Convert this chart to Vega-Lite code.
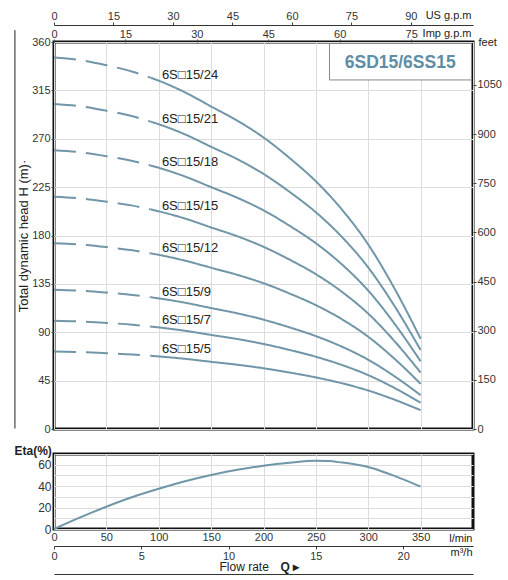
{
  "$schema": "https://vega.github.io/schema/vega-lite/v6.json",
  "background": "white",
  "padding": {"left": 12, "top": 7, "right": 0, "bottom": 0},
  "bounds": "flush",
  "spacing": 25,
  "config": {
    "font": "Liberation Sans",
    "view": {"stroke": "#111111", "strokeWidth": 3},
    "axis": {
      "labelFont": "Liberation Sans",
      "titleFont": "Liberation Sans",
      "labelColor": "#333333",
      "titleColor": "#222222",
      "labelFontSize": 11,
      "titleFontSize": 11,
      "titleFontWeight": "normal",
      "gridColor": "#dcdcdc",
      "gridWidth": 1,
      "tickColor": "#444444",
      "domainColor": "#333333",
      "labelFlush": false
    },
    "text": {"font": "Liberation Sans"}
  },
  "datasets": {
    "curves": [
      {"m": "24", "p": "d", "Q": 0, "H": 345.6}, {"m": "24", "p": "d", "Q": 25, "H": 343.2}, {"m": "24", "p": "d", "Q": 50, "H": 338.4}, {"m": "24", "p": "d", "Q": 75, "H": 332.4}, {"m": "24", "p": "d", "Q": 92, "H": 326.9},
      {"m": "24", "p": "s", "Q": 92, "H": 326.9}, {"m": "24", "p": "s", "Q": 100, "H": 324.0}, {"m": "24", "p": "s", "Q": 125, "H": 313.2}, {"m": "24", "p": "s", "Q": 150, "H": 300.0}, {"m": "24", "p": "s", "Q": 175, "H": 286.8}, {"m": "24", "p": "s", "Q": 200, "H": 271.2}, {"m": "24", "p": "s", "Q": 225, "H": 252.0}, {"m": "24", "p": "s", "Q": 250, "H": 230.4}, {"m": "24", "p": "s", "Q": 275, "H": 204.0}, {"m": "24", "p": "s", "Q": 300, "H": 171.6}, {"m": "24", "p": "s", "Q": 325, "H": 130.8}, {"m": "24", "p": "s", "Q": 350, "H": 84.0},
      {"m": "21", "p": "d", "Q": 0, "H": 302.4}, {"m": "21", "p": "d", "Q": 25, "H": 300.3}, {"m": "21", "p": "d", "Q": 50, "H": 296.1}, {"m": "21", "p": "d", "Q": 75, "H": 290.9}, {"m": "21", "p": "d", "Q": 92, "H": 286.0},
      {"m": "21", "p": "s", "Q": 92, "H": 286.0}, {"m": "21", "p": "s", "Q": 100, "H": 283.5}, {"m": "21", "p": "s", "Q": 125, "H": 274.1}, {"m": "21", "p": "s", "Q": 150, "H": 262.5}, {"m": "21", "p": "s", "Q": 175, "H": 251.0}, {"m": "21", "p": "s", "Q": 200, "H": 237.3}, {"m": "21", "p": "s", "Q": 225, "H": 220.5}, {"m": "21", "p": "s", "Q": 250, "H": 201.6}, {"m": "21", "p": "s", "Q": 275, "H": 178.5}, {"m": "21", "p": "s", "Q": 300, "H": 150.2}, {"m": "21", "p": "s", "Q": 325, "H": 114.5}, {"m": "21", "p": "s", "Q": 350, "H": 73.5},
      {"m": "18", "p": "d", "Q": 0, "H": 259.2}, {"m": "18", "p": "d", "Q": 25, "H": 257.4}, {"m": "18", "p": "d", "Q": 50, "H": 253.8}, {"m": "18", "p": "d", "Q": 75, "H": 249.3}, {"m": "18", "p": "d", "Q": 92, "H": 245.2},
      {"m": "18", "p": "s", "Q": 92, "H": 245.2}, {"m": "18", "p": "s", "Q": 100, "H": 243.0}, {"m": "18", "p": "s", "Q": 125, "H": 234.9}, {"m": "18", "p": "s", "Q": 150, "H": 225.0}, {"m": "18", "p": "s", "Q": 175, "H": 215.1}, {"m": "18", "p": "s", "Q": 200, "H": 203.4}, {"m": "18", "p": "s", "Q": 225, "H": 189.0}, {"m": "18", "p": "s", "Q": 250, "H": 172.8}, {"m": "18", "p": "s", "Q": 275, "H": 153.0}, {"m": "18", "p": "s", "Q": 300, "H": 128.7}, {"m": "18", "p": "s", "Q": 325, "H": 98.1}, {"m": "18", "p": "s", "Q": 350, "H": 63.0},
      {"m": "15", "p": "d", "Q": 0, "H": 216.0}, {"m": "15", "p": "d", "Q": 25, "H": 214.5}, {"m": "15", "p": "d", "Q": 50, "H": 211.5}, {"m": "15", "p": "d", "Q": 75, "H": 207.8}, {"m": "15", "p": "d", "Q": 92, "H": 204.3},
      {"m": "15", "p": "s", "Q": 92, "H": 204.3}, {"m": "15", "p": "s", "Q": 100, "H": 202.5}, {"m": "15", "p": "s", "Q": 125, "H": 195.8}, {"m": "15", "p": "s", "Q": 150, "H": 187.5}, {"m": "15", "p": "s", "Q": 175, "H": 179.3}, {"m": "15", "p": "s", "Q": 200, "H": 169.5}, {"m": "15", "p": "s", "Q": 225, "H": 157.5}, {"m": "15", "p": "s", "Q": 250, "H": 144.0}, {"m": "15", "p": "s", "Q": 275, "H": 127.5}, {"m": "15", "p": "s", "Q": 300, "H": 107.3}, {"m": "15", "p": "s", "Q": 325, "H": 81.8}, {"m": "15", "p": "s", "Q": 350, "H": 52.5},
      {"m": "12", "p": "d", "Q": 0, "H": 172.8}, {"m": "12", "p": "d", "Q": 25, "H": 171.6}, {"m": "12", "p": "d", "Q": 50, "H": 169.2}, {"m": "12", "p": "d", "Q": 75, "H": 166.2}, {"m": "12", "p": "d", "Q": 92, "H": 163.4},
      {"m": "12", "p": "s", "Q": 92, "H": 163.4}, {"m": "12", "p": "s", "Q": 100, "H": 162.0}, {"m": "12", "p": "s", "Q": 125, "H": 156.6}, {"m": "12", "p": "s", "Q": 150, "H": 150.0}, {"m": "12", "p": "s", "Q": 175, "H": 143.4}, {"m": "12", "p": "s", "Q": 200, "H": 135.6}, {"m": "12", "p": "s", "Q": 225, "H": 126.0}, {"m": "12", "p": "s", "Q": 250, "H": 115.2}, {"m": "12", "p": "s", "Q": 275, "H": 102.0}, {"m": "12", "p": "s", "Q": 300, "H": 85.8}, {"m": "12", "p": "s", "Q": 325, "H": 65.4}, {"m": "12", "p": "s", "Q": 350, "H": 42.0},
      {"m": "9", "p": "d", "Q": 0, "H": 129.6}, {"m": "9", "p": "d", "Q": 25, "H": 128.7}, {"m": "9", "p": "d", "Q": 50, "H": 126.9}, {"m": "9", "p": "d", "Q": 75, "H": 124.7}, {"m": "9", "p": "d", "Q": 92, "H": 122.6},
      {"m": "9", "p": "s", "Q": 92, "H": 122.6}, {"m": "9", "p": "s", "Q": 100, "H": 121.5}, {"m": "9", "p": "s", "Q": 125, "H": 117.5}, {"m": "9", "p": "s", "Q": 150, "H": 112.5}, {"m": "9", "p": "s", "Q": 175, "H": 107.6}, {"m": "9", "p": "s", "Q": 200, "H": 101.7}, {"m": "9", "p": "s", "Q": 225, "H": 94.5}, {"m": "9", "p": "s", "Q": 250, "H": 86.4}, {"m": "9", "p": "s", "Q": 275, "H": 76.5}, {"m": "9", "p": "s", "Q": 300, "H": 64.4}, {"m": "9", "p": "s", "Q": 325, "H": 49.1}, {"m": "9", "p": "s", "Q": 350, "H": 31.5},
      {"m": "7", "p": "d", "Q": 0, "H": 100.8}, {"m": "7", "p": "d", "Q": 25, "H": 100.1}, {"m": "7", "p": "d", "Q": 50, "H": 98.7}, {"m": "7", "p": "d", "Q": 75, "H": 97.0}, {"m": "7", "p": "d", "Q": 92, "H": 95.3},
      {"m": "7", "p": "s", "Q": 92, "H": 95.3}, {"m": "7", "p": "s", "Q": 100, "H": 94.5}, {"m": "7", "p": "s", "Q": 125, "H": 91.4}, {"m": "7", "p": "s", "Q": 150, "H": 87.5}, {"m": "7", "p": "s", "Q": 175, "H": 83.7}, {"m": "7", "p": "s", "Q": 200, "H": 79.1}, {"m": "7", "p": "s", "Q": 225, "H": 73.5}, {"m": "7", "p": "s", "Q": 250, "H": 67.2}, {"m": "7", "p": "s", "Q": 275, "H": 59.5}, {"m": "7", "p": "s", "Q": 300, "H": 50.1}, {"m": "7", "p": "s", "Q": 325, "H": 38.2}, {"m": "7", "p": "s", "Q": 350, "H": 24.5},
      {"m": "5", "p": "d", "Q": 0, "H": 72.0}, {"m": "5", "p": "d", "Q": 25, "H": 71.5}, {"m": "5", "p": "d", "Q": 50, "H": 70.5}, {"m": "5", "p": "d", "Q": 75, "H": 69.3}, {"m": "5", "p": "d", "Q": 92, "H": 68.1},
      {"m": "5", "p": "s", "Q": 92, "H": 68.1}, {"m": "5", "p": "s", "Q": 100, "H": 67.5}, {"m": "5", "p": "s", "Q": 125, "H": 65.3}, {"m": "5", "p": "s", "Q": 150, "H": 62.5}, {"m": "5", "p": "s", "Q": 175, "H": 59.8}, {"m": "5", "p": "s", "Q": 200, "H": 56.5}, {"m": "5", "p": "s", "Q": 225, "H": 52.5}, {"m": "5", "p": "s", "Q": 250, "H": 48.0}, {"m": "5", "p": "s", "Q": 275, "H": 42.5}, {"m": "5", "p": "s", "Q": 300, "H": 35.8}, {"m": "5", "p": "s", "Q": 325, "H": 27.3}, {"m": "5", "p": "s", "Q": 350, "H": 17.5}
    ],
    "labels": [
      {"t": "6S□15/24", "Q": 103, "H": 329},
      {"t": "6S□15/21", "Q": 103, "H": 288},
      {"t": "6S□15/18", "Q": 103, "H": 248.6},
      {"t": "6S□15/15", "Q": 103, "H": 207.7},
      {"t": "6S□15/12", "Q": 103, "H": 168},
      {"t": "6S□15/9", "Q": 103, "H": 127.7},
      {"t": "6S□15/7", "Q": 103, "H": 101.4},
      {"t": "6S□15/5", "Q": 103, "H": 74}
    ],
    "eta": [
      {"Q": 0, "E": 0}, {"Q": 25, "E": 10.8}, {"Q": 50, "E": 20.8}, {"Q": 75, "E": 29.8}, {"Q": 100, "E": 37.5},
      {"Q": 125, "E": 44.5}, {"Q": 150, "E": 50.4}, {"Q": 175, "E": 55.2}, {"Q": 200, "E": 59.0}, {"Q": 225, "E": 61.8},
      {"Q": 250, "E": 63.6}, {"Q": 262, "E": 63.4}, {"Q": 275, "E": 62.0}, {"Q": 288, "E": 60.2}, {"Q": 300, "E": 57.8},
      {"Q": 312, "E": 54.2}, {"Q": 325, "E": 49.6}, {"Q": 350, "E": 39.6}
    ]
  },
  "vconcat": [
    {
      "width": 419,
      "height": 387,
      "resolve": {"scale": {"x": "independent", "y": "independent"}, "axis": {"x": "independent", "y": "independent"}},
      "layer": [
        {
          "data": {"name": "curves"},
          "mark": {"type": "line", "strokeWidth": 2, "color": "#7096a8", "interpolate": "monotone"},
          "encoding": {
            "x": {"field": "Q", "type": "quantitative", "scale": {"domain": [0, 400], "nice": false},
              "axis": {"values": [0, 50, 100, 150, 200, 250, 300, 350, 400], "grid": true, "labels": false, "ticks": false, "domain": false, "title": null}},
            "y": {"field": "H", "type": "quantitative", "scale": {"domain": [0, 360], "nice": false},
              "axis": {"values": [0, 45, 90, 135, 180, 225, 270, 315, 360], "grid": true, "domain": false, "tickSize": 3, "labelPadding": 1,
                "title": "Total dynamic head H (m)·", "titleFontSize": 13, "titlePadding": 1}},
            "detail": {"field": "m"},
            "strokeDash": {"field": "p", "type": "nominal", "scale": {"domain": ["d", "s"], "range": [[22, 10], [1, 0]]}, "legend": null}
          }
        },
        {
          "data": {"name": "labels"},
          "mark": {"type": "text", "align": "left", "baseline": "middle", "fontSize": 13, "color": "#222222"},
          "encoding": {
            "x": {"field": "Q", "type": "quantitative", "scale": {"domain": [0, 400], "nice": false}, "axis": null},
            "y": {"field": "H", "type": "quantitative", "scale": {"domain": [0, 360], "nice": false}, "axis": null},
            "text": {"field": "t"}
          }
        },
        {
          "data": {"values": [{}]},
          "mark": {"type": "rect", "fill": "white", "stroke": "#888888", "strokeWidth": 1},
          "encoding": {
            "x": {"datum": 263, "type": "quantitative", "scale": {"domain": [0, 400], "nice": false}, "axis": null},
            "x2": {"datum": 398.5},
            "y": {"datum": 324.7, "type": "quantitative", "scale": {"domain": [0, 360], "nice": false}, "axis": null},
            "y2": {"datum": 358.6}
          }
        },
        {
          "data": {"values": [{}]},
          "mark": {"type": "text", "text": "6SD15/6SS15", "fontSize": 17.5, "fontWeight": "bold", "color": "#5e8ea5", "align": "center", "baseline": "middle"},
          "encoding": {
            "x": {"datum": 330.5, "type": "quantitative", "scale": {"domain": [0, 400], "nice": false}, "axis": null},
            "y": {"datum": 340.5, "type": "quantitative", "scale": {"domain": [0, 360], "nice": false}, "axis": null}
          }
        },
        {
          "data": {"values": [{}]},
          "mark": {"type": "rule", "stroke": "#222222", "strokeWidth": 1},
          "encoding": {
            "x": {"datum": -37.3, "type": "quantitative", "scale": {"domain": [0, 400], "nice": false}, "axis": null},
            "y": {"datum": 0.5, "type": "quantitative", "scale": {"domain": [0, 360], "nice": false}, "axis": null},
            "y2": {"datum": 371}
          }
        },
        {
          "data": {"name": "curves"},
          "transform": [{"filter": "datum.Q < 0"}],
          "mark": {"type": "point", "opacity": 0},
          "encoding": {
            "x": {"field": "Q", "type": "quantitative", "scale": {"domain": [0, 105.67], "nice": false},
              "axis": {"orient": "top", "offset": 17, "values": [0, 15, 30, 45, 60, 75, 90], "grid": false, "tickSize": 3, "labelPadding": 1, "domain": true,
                "title": "US g.p.m", "titleX": 417, "titleY": -10, "titleAlign": "right", "titleBaseline": "middle"}},
            "y": {"field": "H", "type": "quantitative", "scale": {"domain": [0, 360], "nice": false}, "axis": null}
          }
        },
        {
          "data": {"name": "curves"},
          "transform": [{"filter": "datum.Q < 0"}],
          "mark": {"type": "point", "opacity": 0},
          "encoding": {
            "x": {"field": "Q", "type": "quantitative", "scale": {"domain": [0, 87.99], "nice": false},
              "axis": {"orient": "top", "offset": 0, "values": [0, 15, 30, 45, 60, 75], "grid": false, "tickSize": 3, "labelPadding": 0, "domain": false,
                "title": "Imp g.p.m", "titleX": 417, "titleY": -9, "titleAlign": "right", "titleBaseline": "middle"}},
            "y": {"field": "H", "type": "quantitative", "scale": {"domain": [0, 360], "nice": false}, "axis": null}
          }
        },
        {
          "data": {"name": "curves"},
          "transform": [{"filter": "datum.Q < 0"}],
          "mark": {"type": "point", "opacity": 0},
          "encoding": {
            "x": {"field": "Q", "type": "quantitative", "scale": {"domain": [0, 400], "nice": false}, "axis": null},
            "y": {"field": "H", "type": "quantitative", "scale": {"domain": [0, 1181.1], "nice": false},
              "axis": {"orient": "right", "values": [0, 150, 300, 450, 600, 750, 900, 1050], "format": "d", "grid": false, "tickSize": 3, "labelPadding": 1, "domain": false,
                "title": "feet", "titleAngle": 0, "titleX": 5, "titleY": 0, "titleAlign": "left", "titleBaseline": "middle"}}
          }
        }
      ]
    },
    {
      "width": 419,
      "height": 75,
      "resolve": {"scale": {"x": "independent", "y": "independent"}, "axis": {"x": "independent", "y": "independent"}},
      "layer": [
        {
          "data": {"name": "eta"},
          "mark": {"type": "line", "strokeWidth": 2, "color": "#7096a8", "interpolate": "monotone"},
          "encoding": {
            "x": {"field": "Q", "type": "quantitative", "scale": {"domain": [0, 400], "nice": false},
              "axis": {"values": [0, 50, 100, 150, 200, 250, 300, 350], "grid": true, "ticks": false, "domain": false, "labelPadding": 2,
                "title": "l/min", "titleX": 418, "titleY": 9, "titleAlign": "right", "titleBaseline": "middle"}},
            "y": {"field": "E", "type": "quantitative", "scale": {"domain": [0, 70], "nice": false},
              "axis": {"values": [0, 10, 20, 30, 40, 50, 60, 70], "labelExpr": "datum.value % 20 == 0 && datum.value < 70 ? datum.label : ''", "grid": true, "domain": false, "ticks": false, "labelPadding": 3, "labelFontSize": 12,
                "title": "Eta(%)", "titleAngle": 0, "titleX": -40, "titleY": -4, "titleAlign": "left", "titleBaseline": "middle", "titleFontWeight": "bold", "titleFontSize": 12}}
          }
        },
        {
          "data": {"name": "eta"},
          "transform": [{"filter": "datum.Q < 0"}],
          "mark": {"type": "point", "opacity": 0},
          "encoding": {
            "x": {"field": "Q", "type": "quantitative", "scale": {"domain": [0, 24], "nice": false},
              "axis": {"orient": "bottom", "offset": 17, "values": [0, 5, 10, 15, 20], "grid": false, "tickSize": 3, "labelPadding": 1, "domain": true,
                "title": "m³/h", "titleX": 418, "titleY": 6, "titleAlign": "right", "titleBaseline": "middle"}},
            "y": {"field": "E", "type": "quantitative", "scale": {"domain": [0, 70], "nice": false}, "axis": null}
          }
        },
        {
          "data": {"name": "eta"},
          "transform": [{"filter": "datum.Q < 0"}],
          "mark": {"type": "point", "opacity": 0},
          "encoding": {
            "x": {"field": "Q", "type": "quantitative", "scale": {"domain": [0, 24], "nice": false},
              "axis": {"orient": "bottom", "offset": 45, "labels": false, "ticks": false, "grid": false, "domain": true,
                "title": "Flow  rate", "titleX": 165, "titleY": -7.5, "titleAlign": "left", "titleBaseline": "middle", "titleFontSize": 12}},
            "y": {"field": "E", "type": "quantitative", "scale": {"domain": [0, 70], "nice": false}, "axis": null}
          }
        },
        {
          "data": {"name": "eta"},
          "transform": [{"filter": "datum.Q < 0"}],
          "mark": {"type": "point", "opacity": 0},
          "encoding": {
            "x": {"field": "Q", "type": "quantitative", "scale": {"domain": [0, 24], "nice": false},
              "axis": {"orient": "bottom", "offset": 45, "labels": false, "ticks": false, "grid": false, "domain": false,
                "title": "Q ▸", "titleX": 226, "titleY": -7.5, "titleAlign": "left", "titleBaseline": "middle", "titleFontSize": 12, "titleFontWeight": "bold"}},
            "y": {"field": "E", "type": "quantitative", "scale": {"domain": [0, 70], "nice": false}, "axis": null}
          }
        }
      ]
    }
  ]
}
